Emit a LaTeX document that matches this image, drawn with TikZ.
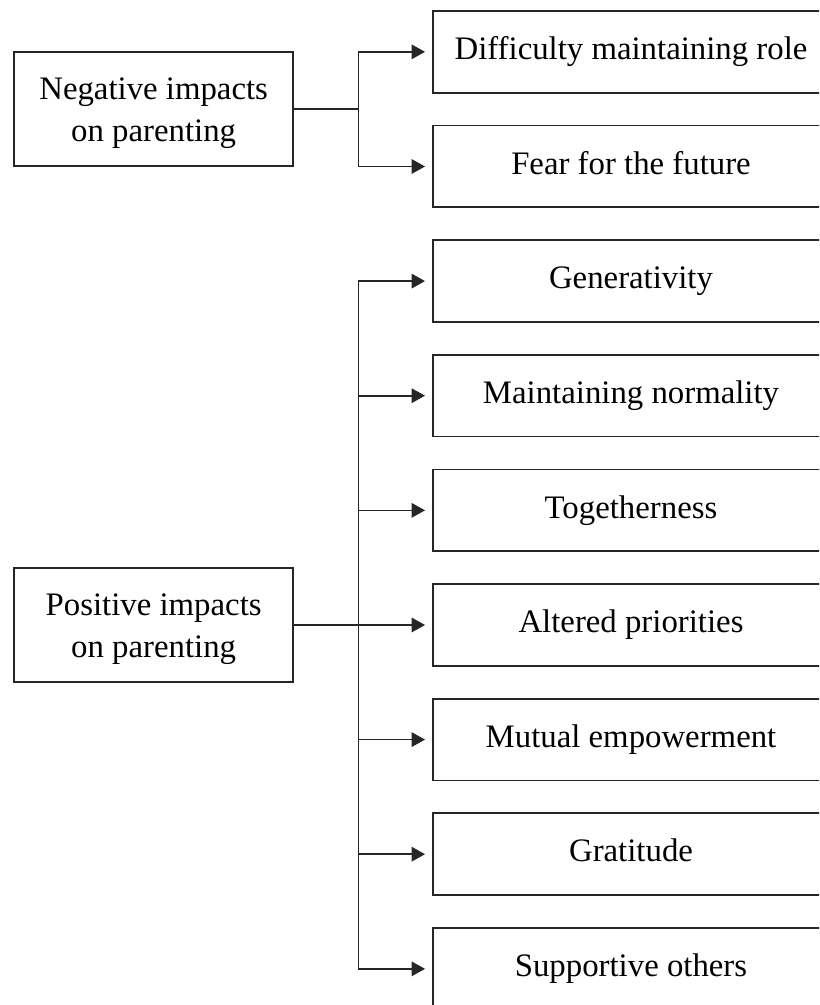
\documentclass[tikz,border=0pt]{standalone}
\usepackage{fontspec}
\setmainfont{Liberation Serif}
\usetikzlibrary{arrows.meta}
\tikzset{
  lbox/.style={draw=black!85, line width=1.3pt, inner sep=0pt, outer sep=0pt,
    minimum width=209.5pt, minimum height=85.35pt, align=center,
    font=\fontsize{24.6pt}{31.8pt}\selectfont},
  rbox/.style={draw=black!85, line width=1.3pt, inner sep=0pt, outer sep=0pt,
    minimum width=296.55pt, minimum height=61.3pt,
    text height=16.8pt, text depth=5.3pt,
    font=\fontsize{24.6pt}{31.8pt}\selectfont},
  conn/.style={draw=black!85, line width=1.25pt},
  arr/.style={conn, -{Triangle[length=10pt,width=10.8pt]}, shorten >=6.2pt},
}
\newcommand{\topstrut}{\rule{0pt}{22.3pt}}
\newcommand{\botstrut}{\rule[-5.3pt]{0pt}{0pt}}
\begin{document}
\begin{tikzpicture}[x=0.75pt,y=-0.75pt]
\useasboundingbox (0,0) rectangle (819,1005);
\begin{scope}
\clip (0,0) rectangle (819,1005);
% left boxes
\node[lbox] (neg) at (153.65,109.2) {\topstrut Negative impacts\\ on parenting\botstrut};
\node[lbox] (pos) at (153.65,625) {\topstrut Positive impacts\\ on parenting\botstrut};
% right boxes
\node[rbox] (r1) at (631,51.85) {Difficulty maintaining role};
\node[rbox] (r2) at (631,166.5) {Fear for the future};
\node[rbox] (r3) at (631,281.1) {Generativity};
\node[rbox] (r4) at (631,395.7) {Maintaining normality};
\node[rbox] (r5) at (631,510.35) {Togetherness};
\node[rbox] (r6) at (631,625) {Altered priorities};
\node[rbox] (r7) at (631,739.6) {Mutual empowerment};
\node[rbox] (r8) at (631,854.2) {Gratitude};
\node[rbox] (r9) at (631,968.85) {Supportive others};
% trunk points
\coordinate (nt) at (358.5,109.2);
\coordinate (pt) at (358.5,625);
% negative connectors
\draw[conn] (neg.east) -- (nt);
\draw[arr] (nt) |- (r1.west);
\draw[arr] (nt) |- (r2.west);
% positive connectors
\draw[arr] (pos.east) -- (r6.west);
\draw[arr] (pt) |- (r3.west);
\draw[arr] (pt) |- (r4.west);
\draw[arr] (pt) |- (r5.west);
\draw[arr] (pt) |- (r7.west);
\draw[arr] (pt) |- (r8.west);
\draw[arr] (pt) |- (r9.west);
\end{scope}
\end{tikzpicture}
\end{document}
